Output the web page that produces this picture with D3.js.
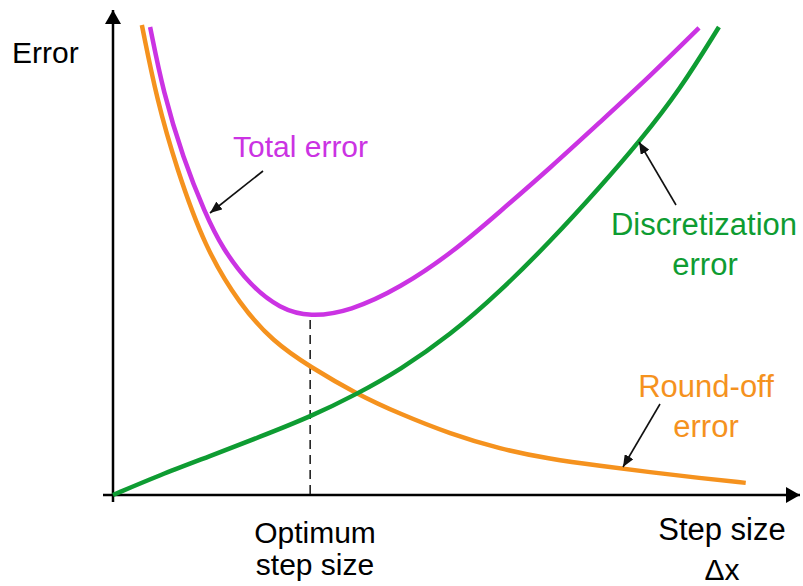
<!DOCTYPE html>
<html>
    <head>
        <meta charset="utf-8">
        <script src="https://cdn.jsdelivr.net/npm/d3@7"></script>
        <script>
            // step size (x) and error (y)
            var roundOffX = [0.42, 0.64, 0.92, 1.34, 1.85, 2.33, 2.87, 3.55, 4.18, 4.91, 5.63, 6.36, 7.09, 7.82, 8.54, 9.21];
            var roundOffY = [9.69, 8.14, 6.76, 5.09, 3.92, 3.16, 2.64, 2.08, 1.67, 1.26, 0.95, 0.74, 0.60, 0.47, 0.35, 0.25];

            var discrX = [0, 0.68, 1.41, 2.14, 2.87, 3.55, 4.18, 4.91, 5.63, 6.36, 7.09, 7.67, 8.25, 8.82];
            var discrY = [0, 0.41, 0.80, 1.20, 1.61, 2.08, 2.58, 3.30, 4.19, 5.22, 6.35, 7.30, 8.35, 9.65];

            var totalX = [0.54, 0.73, 1.02, 1.34, 1.59, 1.99, 2.43, 2.87, 3.45, 4.18, 4.95, 5.63, 6.36, 7.09, 7.82, 8.53];
            var totalY = [9.65, 8.31, 6.95, 5.81, 5.09, 4.33, 3.84, 3.67, 3.79, 4.27, 5.01, 5.84, 6.74, 7.69, 8.64, 9.63];

            var optimumX = 2.87;

            function makeSVG() {
                var svg = d3.select("#fig");

                var xSc = d3.scaleLinear().domain([0, 10]).range([113, 800]);
                var ySc = d3.scaleLinear().domain([0, 10]).range([495, 10]);

                var font = "'Liberation Sans', Arial, sans-serif";

                // arrow heads
                var defs = svg.append("defs");
                defs.append("marker")
                    .attr("id", "bigHead")
                    .attr("viewBox", "0 0 14 16")
                    .attr("refX", 14).attr("refY", 8)
                    .attr("markerWidth", 14).attr("markerHeight", 16)
                    .attr("markerUnits", "userSpaceOnUse")
                    .attr("orient", "auto")
                    .append("path")
                    .attr("d", "M0,0 L14,8 L0,16 Z")
                    .attr("fill", "#000");
                defs.append("marker")
                    .attr("id", "smallHead")
                    .attr("viewBox", "0 0 12 10")
                    .attr("refX", 12).attr("refY", 5)
                    .attr("markerWidth", 12).attr("markerHeight", 10)
                    .attr("markerUnits", "userSpaceOnUse")
                    .attr("orient", "auto")
                    .append("path")
                    .attr("d", "M0,0 L12,5 L0,10 Z")
                    .attr("fill", "#111");

                // Draw axes

                svg.append("line")
                   .attr("x1", xSc(0)).attr("y1", ySc(0) + 7)
                   .attr("x2", xSc(0)).attr("y2", ySc(10))
                   .attr("stroke", "#000").attr("stroke-width", 2.5)
                   .attr("marker-end", "url(#bigHead)");
                svg.append("line")
                   .attr("x1", xSc(0) - 10).attr("y1", ySc(0))
                   .attr("x2", xSc(10)).attr("y2", ySc(0))
                   .attr("stroke", "#000").attr("stroke-width", 2.5)
                   .attr("marker-end", "url(#bigHead)");

                // Draw optimum line

                var minY = d3.min(totalY);
                svg.append("line")
                   .attr("x1", xSc(optimumX)).attr("y1", ySc(minY) + 3)
                   .attr("x2", xSc(optimumX)).attr("y2", ySc(0))
                   .attr("stroke", "#222").attr("stroke-width", 1.6)
                   .attr("stroke-dasharray", "9,6");

                // Draw curves

                var lnMkr = d3.line().curve(d3.curveBasis)
                              .x(d => xSc(d[0]))
                              .y(d => ySc(d[1]));

                var curves = [
                    { xs: roundOffX, ys: roundOffY, color: "#f5921e" },
                    { xs: discrX, ys: discrY, color: "#0e9c32" },
                    { xs: totalX, ys: totalY, color: "#cb33e3" }
                ];

                curves.forEach(function (c) {
                    svg.append("path")
                       .attr("d", lnMkr(c.xs.map((x, i) => [x, c.ys[i]])))
                       .attr("fill", "none")
                       .attr("stroke", c.color)
                       .attr("stroke-width", 4.5);
                });

                // Draw annotation arrows

                var notes = [[263, 171, 210, 213], [676, 205, 639, 142], [660, 404, 623, 467]];
                svg.selectAll(".note")
                   .data(notes)
                   .enter()
                   .append("line")
                   .attr("x1", d => d[0]).attr("y1", d => d[1])
                   .attr("x2", d => d[2]).attr("y2", d => d[3])
                   .attr("stroke", "#111").attr("stroke-width", 1.6)
                   .attr("marker-end", "url(#smallHead)");

                // Draw labels

                var labels = [
                    ["Error", 12, 63, "start", "#000", 30],
                    ["Total error", 233, 157, "start", "#cb33e3", 30],
                    ["Discretization", 704, 235, "middle", "#0e9c32", 31],
                    ["error", 705, 275, "middle", "#0e9c32", 31],
                    ["Round-off", 706, 397, "middle", "#f5921e", 31],
                    ["error", 706, 437, "middle", "#f5921e", 31],
                    ["Optimum", 315, 543, "middle", "#000", 30],
                    ["step size", 315, 575, "middle", "#000", 30],
                    ["Step size", 722, 540, "middle", "#000", 31],
                    ["\u0394x", 722, 580, "middle", "#000", 30]
                ];
                svg.selectAll(".lbl")
                   .data(labels)
                   .enter()
                   .append("text")
                   .attr("x", d => d[1])
                   .attr("y", d => d[2])
                   .attr("text-anchor", d => d[3])
                   .attr("fill", d => d[4])
                   .attr("font-size", d => d[5])
                   .attr("font-family", font)
                   .text(d => d[0]);
            }
        </script>
    </head>
    <body onload="makeSVG()" style="margin: 0">

        <svg id="fig" width="803" height="586" style="background: white; display: block" />

    </body>
</html>
